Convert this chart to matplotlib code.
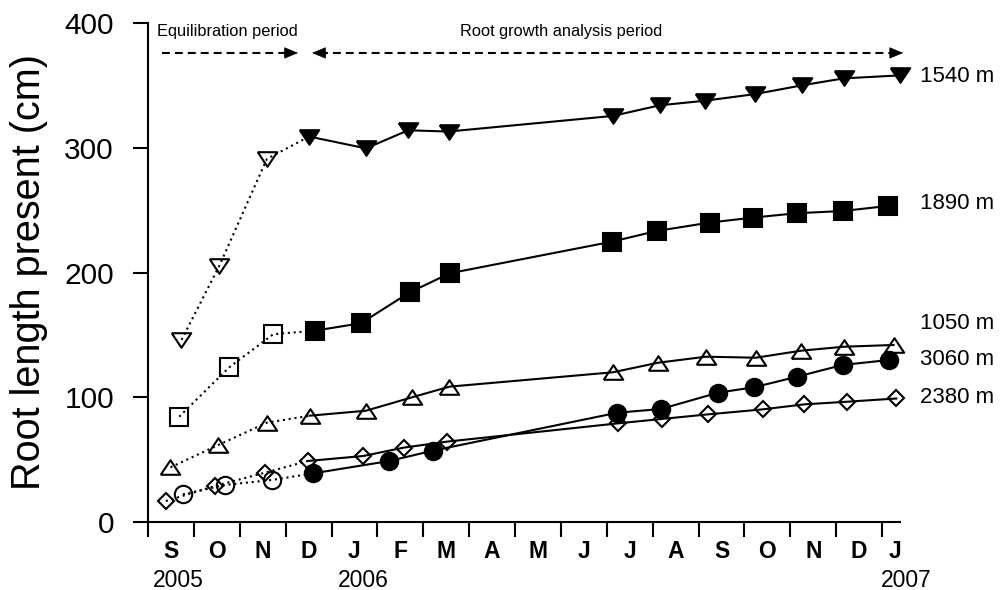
import matplotlib
matplotlib.use("Agg")
import matplotlib.pyplot as plt
from matplotlib.ticker import FixedLocator, NullFormatter

plt.rcParams["font.family"] = ["Liberation Sans", "DejaVu Sans"]

# x positions in months counted from 1 Sep 2005; first three samples are the equilibration period
N_EQUIL = 3

x_1540 = [0.73, 1.55, 2.59, 3.51, 4.75, 5.67, 6.55, 10.13, 11.15, 12.14, 13.23, 14.25, 15.16, 16.38]
y_1540 = [146, 205, 291, 309, 299.5, 314, 313, 325.5, 334, 337.7, 343, 350, 355.6, 358]

x_1890 = [0.68, 1.77, 2.73, 3.64, 4.64, 5.70, 6.58, 10.11, 11.09, 12.24, 13.18, 14.14, 15.14, 16.12]
y_1890 = [84.4, 124, 150.5, 153.4, 159.3, 184, 199.4, 224.7, 233.3, 240, 244, 247.5, 249.3, 253.3]

x_1050 = [0.49, 1.53, 2.59, 3.52, 4.75, 5.75, 6.57, 10.13, 11.12, 12.16, 13.25, 14.23, 15.16, 16.25]
y_1050 = [43.8, 61.7, 79.6, 85.2, 89.2, 99.9, 108.5, 120, 127.7, 132.5, 131.7, 137.3, 140.5, 141.9]

x_3060 = [0.76, 1.68, 2.70, 3.60, 5.26, 6.21, 10.23, 11.18, 12.43, 13.21, 14.15, 15.14, 16.16]
y_3060 = [22.2, 29.7, 33.7, 39, 48.9, 57.2, 87.6, 90.6, 103.7, 108, 116.5, 125.9, 129.9]

x_2380 = [0.39, 1.46, 2.55, 3.48, 4.69, 5.57, 6.51, 10.25, 11.20, 12.21, 13.40, 14.30, 15.23, 16.31]
y_2380 = [16.8, 28.9, 39.5, 48.9, 52.9, 59.6, 64.4, 79.1, 82.6, 86.3, 90.3, 94.3, 96.4, 99]

site_labels = ["1540 m", "1890 m", "1050 m", "3060 m", "2380 m"]
label_y = [357.5, 255.7, 159.5, 130, 100.2]

month_labels = ["S", "O", "N", "D", "J", "F", "M", "A", "M", "J", "J", "A", "S", "O", "N", "D", "J"]
month_pos = [i + 0.5 for i in range(16)] + [16.28]
year_labels = ["2005", "2006", "2007"]
year_pos = [0.65, 4.69, 16.52]

X_MAX = 16.39
LW = 1.5
DOTTED = (0, (1, 1.8))

# flat triangle shapes (wider than tall)
TRI_UP = [(-1, -0.75), (1, -0.75), (0, 0.75), (-1, -0.75)]
TRI_DOWN = [(-1, 0.75), (1, 0.75), (0, -0.75), (-1, 0.75)]

fig = plt.figure(figsize=(10.03, 5.90), dpi=100)
ax = fig.add_axes([148 / 1003, 1 - 522 / 590, (900 - 148) / 1003, (522 - 23) / 590])


def draw_series(xs, ys, marker, ms, filled_after):
    """Dotted line + open markers for equilibration, solid line afterwards."""
    k = N_EQUIL
    ax.plot(xs[:k + 1], ys[:k + 1], color="black", lw=LW, ls=DOTTED, zorder=2)
    ax.plot(xs[k:], ys[k:], color="black", lw=LW, ls="-", zorder=2)
    ax.plot(xs[:k], ys[:k], ls="none", marker=marker, ms=ms, mfc="none",
            mec="black", mew=LW, zorder=3, clip_on=False)
    face = "black" if filled_after else "none"
    ax.plot(xs[k:], ys[k:], ls="none", marker=marker, ms=ms, mfc=face,
            mec="black", mew=LW, zorder=3, clip_on=False)


draw_series(x_1540, y_1540, TRI_DOWN, 14, True)
draw_series(x_1890, y_1890, "s", 12.5, True)
draw_series(x_1050, y_1050, TRI_UP, 14, False)
draw_series(x_2380, y_2380, "D", 8.5, False)
draw_series(x_3060, y_3060, "o", 12.5, True)

for txt, yy in zip(site_labels, label_y):
    ax.text(16.83, yy, txt, ha="left", va="center", fontsize=16, clip_on=False)

# period arrows
ARROW_Y = 376
dash = (0, (3.8, 2.4))
ax.plot([0.3, 3.1], [ARROW_Y, ARROW_Y], color="black", lw=LW, ls=dash, clip_on=False)
ax.plot([3.75, 16.28], [ARROW_Y, ARROW_Y], color="black", lw=LW, ls=dash, clip_on=False)
head = dict(arrowstyle="-|>,head_length=0.6,head_width=0.25", mutation_scale=15,
            color="black", lw=0.5, shrinkA=0, shrinkB=0)
ax.annotate("", xy=(3.27, ARROW_Y), xytext=(-9, 0), textcoords="offset points",
            arrowprops=head, annotation_clip=False)
ax.annotate("", xy=(3.575, ARROW_Y), xytext=(9, 0), textcoords="offset points",
            arrowprops=head, annotation_clip=False)
ax.annotate("", xy=(16.46, ARROW_Y), xytext=(-9, 0), textcoords="offset points",
            arrowprops=head, annotation_clip=False)
ax.text(1.72, 393, "Equilibration period", ha="center", va="center", fontsize=11.8)
ax.text(9.0, 393, "Root growth analysis period", ha="center", va="center", fontsize=11.8)

# axes styling
ax.set_xlim(0, X_MAX)
ax.set_ylim(0, 400)
for side in ("top", "right"):
    ax.spines[side].set_visible(False)
for side in ("left", "bottom"):
    ax.spines[side].set_linewidth(LW)

ax.set_yticks([0, 100, 200, 300, 400])
ax.tick_params(axis="y", direction="out", length=11, width=LW, labelsize=21.5, pad=13.5)
ax.set_ylabel("Root length present (cm)", fontsize=28.5, labelpad=12)

ax.xaxis.set_major_locator(FixedLocator(list(range(17))))
ax.xaxis.set_major_formatter(NullFormatter())
ax.xaxis.set_minor_locator(FixedLocator(month_pos))
ax.set_xticklabels(month_labels, minor=True)
ax.tick_params(axis="x", which="major", direction="out", length=11, width=LW)
ax.tick_params(axis="x", which="minor", length=0, pad=13, labelsize=16.5)
for lbl in ax.get_xticklabels(minor=True):
    lbl.set_fontweight("bold")

for txt, xx in zip(year_labels, year_pos):
    ax.annotate(txt, xy=(xx, 0), xycoords=("data", "axes fraction"),
                xytext=(0, -42), textcoords="offset points",
                ha="center", va="center", fontsize=16.5, annotation_clip=False)

fig.savefig("out.png", dpi=100)
